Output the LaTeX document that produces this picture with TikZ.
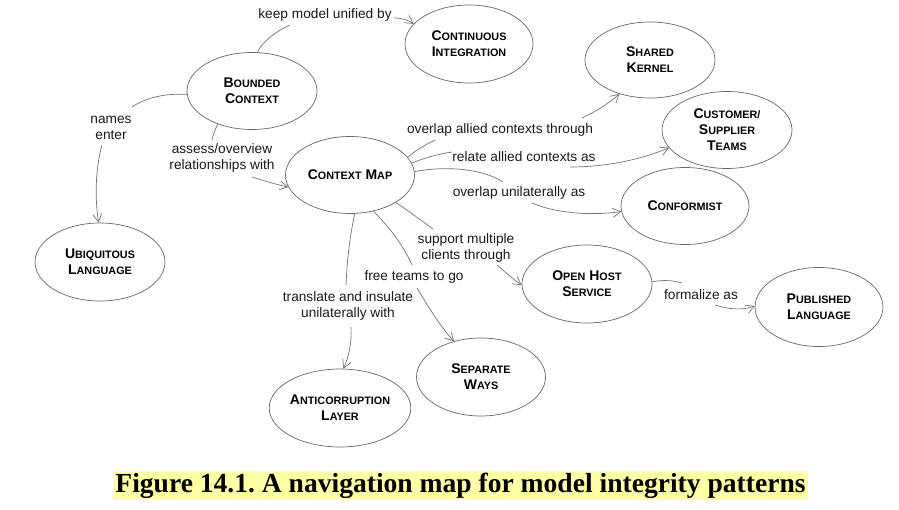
\documentclass[tikz,border=0pt]{standalone}
\usepackage{fontspec}
\setmainfont{Liberation Sans}
\newfontfamily\capfont{Liberation Serif}
\usetikzlibrary{shapes.geometric,arrows.meta}
\newcommand\SCw[2]{{\fontsize{14}{16}\selectfont #1}{\fontsize{10.8}{16}\selectfont #2}}
\definecolor{capbg}{HTML}{FFFFA6}
\frenchspacing
\begin{document}
\begin{tikzpicture}[x=1pt,y=-1pt,
 pat/.style={ellipse,draw=black!60,line width=0.7pt,inner sep=0pt,align=center,font=\bfseries\fontsize{14}{16}\selectfont},
 lbl/.style={inner sep=0pt,align=center,font=\fontsize{13.7}{16}\selectfont,text=black!90},
 conn/.style={draw=black!55,line width=0.7pt},
 arr/.style={conn,-{Straight Barb[length=8pt,width=9pt]}}]
\useasboundingbox (0,0) rectangle (899,510);
% patterns
\node[pat,minimum width=130pt,minimum height=77pt] (bc) at (252,91) {\SCw{B}{OUNDED}\\\SCw{C}{ONTEXT}};
\node[pat,minimum width=128pt,minimum height=78pt] (ci) at (469,44) {\SCw{C}{ONTINUOUS}\\\SCw{I}{NTEGRATION}};
\node[pat,minimum width=130pt,minimum height=76pt] (sk) at (650,60) {\SCw{S}{HARED}\\\SCw{K}{ERNEL}};
\node[pat,minimum width=130pt,minimum height=77pt] (cst) at (727,130) {\SCw{C}{USTOMER/}\\\SCw{S}{UPPLIER}\\\SCw{T}{EAMS}};
\node[pat,minimum width=128pt,minimum height=77pt] (conf) at (685,206) {\SCw{C}{ONFORMIST}};
\node[pat,minimum width=129pt,minimum height=77pt] (cm) at (350,175) {\SCw{C}{ONTEXT} \SCw{M}{AP}};
\node[pat,minimum width=130pt,minimum height=78pt] (ul) at (100,262) {\SCw{U}{BIQUITOUS}\\\SCw{L}{ANGUAGE}};
\node[pat,minimum width=130pt,minimum height=78pt] (ohs) at (587,284) {\SCw{O}{PEN} \SCw{H}{OST}\\\SCw{S}{ERVICE}};
\node[pat,minimum width=128pt,minimum height=79pt] (pl) at (819,307) {\SCw{P}{UBLISHED}\\\SCw{L}{ANGUAGE}};
\node[pat,minimum width=136pt,minimum height=78pt] (acl) at (340,408) {\SCw{A}{NTICORRUPTION}\\\SCw{L}{AYER}};
\node[pat,minimum width=129pt,minimum height=78pt] (sw) at (481,377) {\SCw{S}{EPARATE}\\\SCw{W}{AYS}};
% labels
\node[lbl] (l1) at (325,15) {keep model unified by};
\node[lbl] (l2) at (111,128) {names\\enter};
\node[lbl] (l3) at (222,158) {assess/overview\\relationships with};
\node[lbl] (l4) at (500,130) {overlap allied contexts through};
\node[lbl] (l5) at (524,157) {relate allied contexts as};
\node[lbl] (l6) at (519,193) {overlap unilaterally as};
\node[lbl] (l7) at (466,248) {support multiple\\clients through};
\node[lbl] (l8) at (414,277) {free teams to go};
\node[lbl] (l9) at (348,306) {translate and insulate\\unilaterally with};
\node[lbl] (l10) at (701,295) {formalize as};
% label-side connector ends
\coordinate (c1a) at (290,25);  \coordinate (c1b) at (394,18);
\coordinate (c2a) at (132,107); \coordinate (c2b) at (102,145);
\coordinate (c3a) at (212,140); \coordinate (c3b) at (252,177);
\coordinate (c4a) at (435,140); \coordinate (c4b) at (582,118);
\coordinate (c5a) at (452,152); \coordinate (c5b) at (570,167);
\coordinate (c6a) at (503,182); \coordinate (c6b) at (532,203);
\coordinate (c7a) at (433,229); \coordinate (c7b) at (497,265);
\coordinate (c8a) at (412,265); \coordinate (c8b) at (417,288);
\coordinate (c9a) at (346,285); \coordinate (c9b) at (351,327);
\coordinate (c10a) at (682,283); \coordinate (c10b) at (715,305);
% connectors
\draw[conn] (bc.82) .. controls (262,42) and (275,32) .. (c1a);
\draw[arr] (c1b) .. controls (402,18) and (408,20) .. (ci.160);
\draw[conn] (bc.183) .. controls (165,93) and (145,98) .. (c2a);
\draw[arr] (c2b) .. controls (95,170) and (95,200) .. (ul.92);
\draw[conn] (bc.224) .. controls (215,130) and (213,135) .. (c3a);
\draw[arr] (c3b) .. controls (265,181) and (278,185) .. (cm.191);
\draw[conn] (cm.17) .. controls (416,150) and (425,145) .. (c4a);
\draw[arr] (c4b) .. controls (595,112) and (608,104) .. (sk.228);
\draw[conn] (cm.11) .. controls (425,158) and (438,154) .. (c5a);
\draw[arr] (c5b) .. controls (610,167) and (645,158) .. (cst.197);
\draw[conn] (cm.3) .. controls (450,165) and (485,170) .. (c6a);
\draw[arr] (c6b) .. controls (555,213) and (590,216) .. (conf.185);
\draw[conn] (cm.329) .. controls (410,212) and (422,221) .. (c7a);
\draw[arr] (c7b) .. controls (505,272) and (513,279) .. (ohs.181);
\draw[conn] (cm.303) .. controls (390,228) and (403,245) .. (c8a);
\draw[arr] (c8b) .. controls (430,310) and (443,330) .. (sw.127);
\draw[conn] (cm.277) .. controls (350,235) and (347,260) .. (c9a);
\draw[arr] (c9b) .. controls (352,345) and (348,358) .. (acl.85);
\draw[conn] (ohs.2) .. controls (662,280) and (672,280) .. (c10a);
\draw[arr] (c10b) .. controls (730,310) and (745,310) .. (pl.179);
% caption
\fill[capbg] (113,471) rectangle (808,500);
\node[inner sep=0pt] (cap) at (460.5,486) {\resizebox{690pt}{!}{\capfont\bfseries Figure 14.1. A navigation map for model integrity patterns}};
\end{tikzpicture}
\end{document}
